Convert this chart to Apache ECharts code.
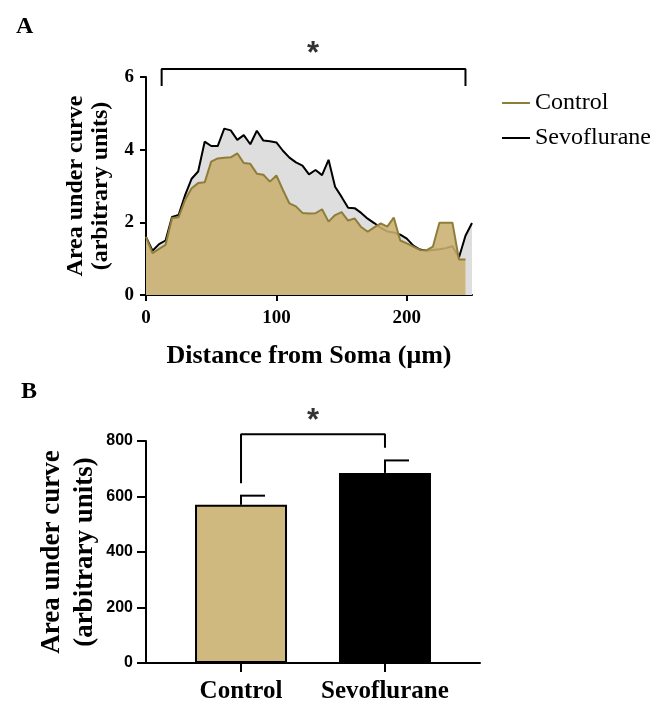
<!DOCTYPE html>
<html><head><meta charset="utf-8">
<script src="https://cdn.jsdelivr.net/npm/echarts@6/dist/echarts.min.js"></script>
<style>html,body{margin:0;padding:0;background:#fff}#c{width:666px;height:704px}</style>
</head><body><div id="c"></div>
<script>
// Panel A: distance from soma (µm)
const distance = [0,5,10,15,20,25,30,35,40,45,50,55,60,65,70,75,80,85,90,95,100,105,110,115,120,125,130,135,140,145,150,155,160,165,170,175,180,185,190,195,200,205,210,215,220,225,230,235,240,245,250];
const sevoflurane = [1.6,1.22,1.4,1.5,2.15,2.2,2.75,3.2,3.4,4.22,4.1,4.1,4.58,4.53,4.27,4.4,4.15,4.52,4.25,4.23,4.2,3.97,3.78,3.65,3.56,3.32,3.44,3.3,3.72,2.98,2.7,2.4,2.39,2.26,2.1,1.98,1.85,1.75,1.72,1.66,1.55,1.36,1.25,1.22,1.24,1.26,1.29,1.34,1.03,1.63,1.98];
const control = [1.6,1.15,1.27,1.38,2.12,2.14,2.62,2.94,3.08,3.1,3.67,3.76,3.78,3.79,3.9,3.63,3.61,3.34,3.31,3.12,3.29,2.89,2.52,2.44,2.26,2.24,2.25,2.36,2.02,2.2,2.28,2.05,2.11,1.87,1.74,1.86,1.97,1.88,2.13,1.5,1.42,1.33,1.24,1.23,1.33,1.99,1.99,1.99,0.98,0.98,null];
const xTicksA = [0,100,200];
const yTicksA = [0,2,4,6];
// Panel B
const groups = ['Control','Sevoflurane'];
const aucMean = [570,685];
const aucErr = [33,45];
const yTicksB = [0,200,400,600,800];
// significance brackets
const bracketA = [[12,5.75],[12,6.22],[245,6.22],[245,5.75]];
const starA = [[128,6.62]];
const bracketB = [[0,648],[0,824],[1,824],[1,776]];
const starB = [[0.5,872]];

const SERIF = '"Liberation Serif","Times New Roman",serif';
const SANS = '"Liberation Sans",Arial,sans-serif';
const TAN = '#cfb97e', OLIVE = '#8f7d3a';

const chart = echarts.init(document.getElementById('c'), null, {renderer:'canvas'});
const axisLine = {show:true, onZero:false, lineStyle:{color:'#000', width:2}};

const option = {
  animation:false,
  backgroundColor:'#fff',
  title:[
    {text:'A', left:11, top:10, textStyle:{fontFamily:SERIF, fontWeight:'bold', fontSize:24, color:'#000'}},
    {text:'B', left:16, top:375, textStyle:{fontFamily:SERIF, fontWeight:'bold', fontSize:24, color:'#000'}}
  ],
  legend:{orient:'vertical', left:497, top:86, icon:'rect', itemWidth:28, itemHeight:2, itemGap:11,
    data:['Control','Sevoflurane'], textStyle:{fontFamily:SERIF, fontSize:24, color:'#000'}},
  grid:[{left:146, top:77, width:326, height:218}, {left:146, top:441, width:334, height:223}],
  xAxis:[
    {type:'value', gridIndex:0, min:0, max:250, interval:100, splitLine:{show:false},
     axisLine:axisLine, axisTick:{show:true, length:6, lineStyle:{color:'#000', width:2}, customValues:xTicksA},
     axisLabel:{margin:14, fontFamily:SERIF, fontWeight:'bold', fontSize:19, color:'#000', customValues:xTicksA},
     name:'Distance from Soma (μm)', nameLocation:'middle', nameGap:48, nameMoveOverlap:false,
     nameTextStyle:{fontFamily:SERIF, fontWeight:'bold', fontSize:26, color:'#000'}},
    {type:'value', gridIndex:1, min:-0.66, max:1.66, splitLine:{show:false},
     axisLine:axisLine, axisTick:{show:true, length:9, lineStyle:{color:'#000', width:2}, customValues:[0,1]},
     axisLabel:{margin:16, fontFamily:SERIF, fontWeight:'bold', fontSize:25, color:'#000', customValues:[0,1],
       formatter:(v)=>groups[Math.round(v)]}}
  ],
  yAxis:[
    {type:'value', gridIndex:0, min:0, max:6, interval:2, splitLine:{show:false},
     axisLine:axisLine, axisTick:{show:true, length:6, lineStyle:{color:'#000', width:2}, customValues:yTicksA},
     axisLabel:{margin:12, fontFamily:SERIF, fontWeight:'bold', fontSize:19, color:'#000', customValues:yTicksA},
     name:'Area under curve\n(arbitrary units)', nameLocation:'middle', nameGap:33, nameRotate:90, nameMoveOverlap:false,
     nameTextStyle:{fontFamily:SERIF, fontWeight:'bold', fontSize:24, lineHeight:25, color:'#000'}},
    {type:'value', gridIndex:1, min:0, max:800, interval:200, splitLine:{show:false},
     axisLine:axisLine, axisTick:{show:true, length:9, lineStyle:{color:'#000', width:2}, customValues:yTicksB},
     axisLabel:{margin:13, fontFamily:SANS, fontWeight:'bold', fontSize:16, color:'#000', customValues:yTicksB},
     name:'Area under curve\n(arbitrary units)', nameLocation:'middle', nameGap:44, nameRotate:90, nameMoveOverlap:false,
     nameTextStyle:{fontFamily:SERIF, fontWeight:'bold', fontSize:27, lineHeight:33, color:'#000'}}
  ],
  series:[
    {name:'Sevoflurane', type:'line', xAxisIndex:0, yAxisIndex:0, data:distance.map((d,i)=>[d,sevoflurane[i]]),
     symbol:'none', color:'#000', lineStyle:{color:'#000', width:2}, areaStyle:{color:'#dedede', opacity:1}, z:2},
    {name:'Control', type:'line', xAxisIndex:0, yAxisIndex:0, data:distance.map((d,i)=>[d,control[i]]),
     symbol:'none', color:OLIVE, connectNulls:false, lineStyle:{color:OLIVE, width:2}, areaStyle:{color:'#c9b070', opacity:0.88}, z:3},
    {name:'bracketA', type:'line', xAxisIndex:0, yAxisIndex:0, data:bracketA, symbol:'none', clip:false, silent:true,
     lineStyle:{color:'#000', width:2}, z:5},
    {name:'starA', type:'scatter', xAxisIndex:0, yAxisIndex:0, data:starA, symbolSize:0, clip:false, silent:true,
     label:{show:true, formatter:'*', position:'inside', fontFamily:SANS, fontWeight:'bold', fontSize:31, color:'#000'}},
    {name:'AUC', type:'bar', xAxisIndex:1, yAxisIndex:1, barWidth:92,
     data:aucMean.map((v,i)=>({value:[i,v], itemStyle:{color: i===0?TAN:'#000', borderColor:'#000', borderWidth:2}})), z:2},
    {name:'err', type:'custom', xAxisIndex:1, yAxisIndex:1, data:aucMean.map((v,i)=>[i,v,aucErr[i]]), z:3, clip:false,
     renderItem:(params, api)=>{
       const x=api.value(0), y=api.value(1), e=api.value(2);
       const p0=api.coord([x,y]), p1=api.coord([x,y+e]);
       return {type:'group', children:[
         {type:'line', shape:{x1:p0[0], y1:p0[1], x2:p1[0], y2:p1[1]}, style:{stroke:'#000', lineWidth:2}},
         {type:'line', shape:{x1:p1[0]-1, y1:p1[1], x2:p1[0]+24, y2:p1[1]}, style:{stroke:'#000', lineWidth:2}}
       ]};
     }},
    {name:'bracketB', type:'line', xAxisIndex:1, yAxisIndex:1, data:bracketB, symbol:'none', clip:false, silent:true,
     lineStyle:{color:'#000', width:2}, z:5},
    {name:'starB', type:'scatter', xAxisIndex:1, yAxisIndex:1, data:starB, symbolSize:0, clip:false, silent:true,
     label:{show:true, formatter:'*', position:'inside', fontFamily:SANS, fontWeight:'bold', fontSize:31, color:'#000'}}
  ]
};
chart.setOption(option);
</script></body></html>
